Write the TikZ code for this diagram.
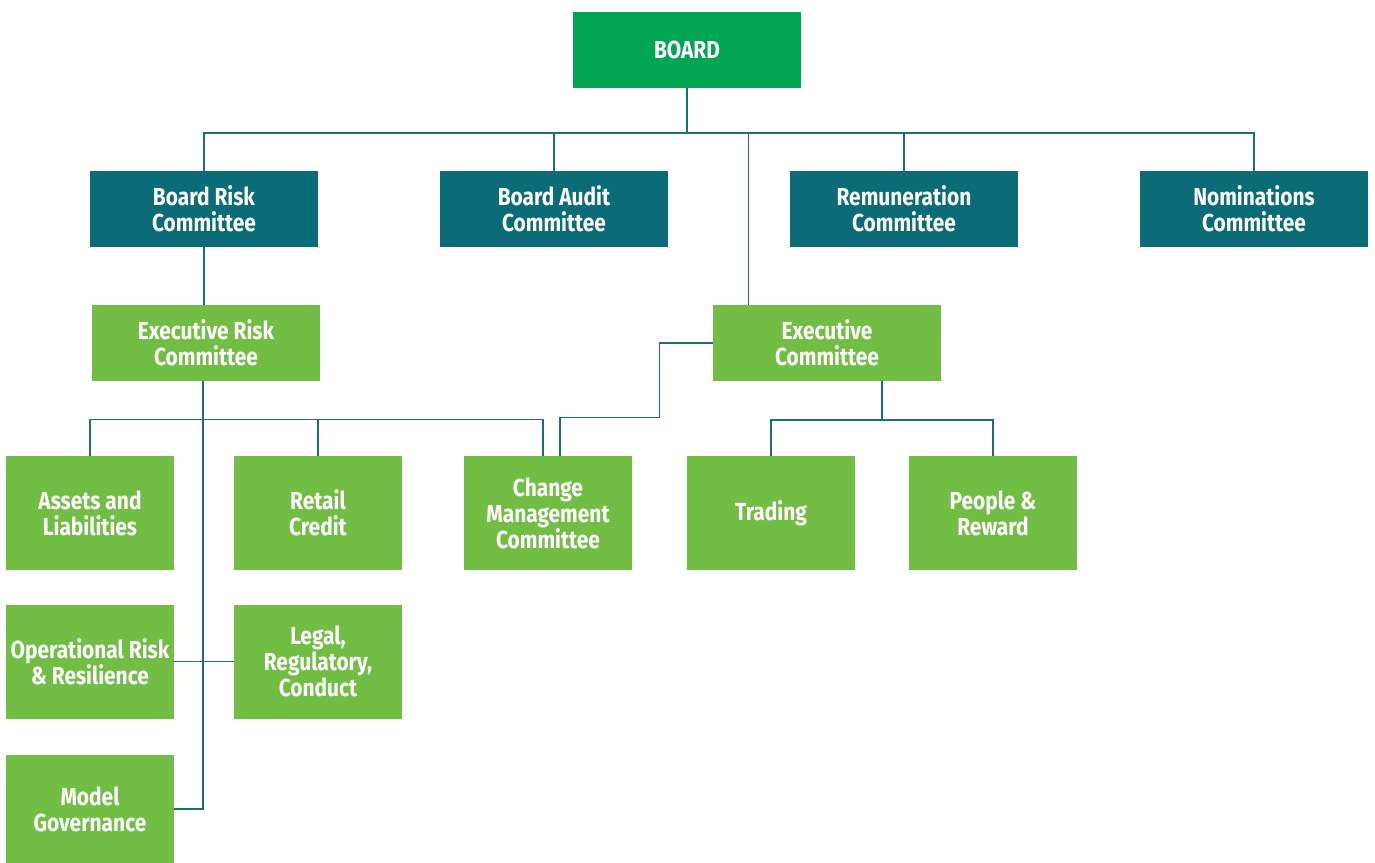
\documentclass[tikz,border=0pt]{standalone}
\usepackage{fontspec}
\setmainfont[FakeStretch=0.85]{Fira Sans}
\usetikzlibrary{calc}
\definecolor{boardgreen}{RGB}{0,166,81}
\definecolor{teal}{RGB}{11,107,118}
\definecolor{leaf}{RGB}{114,190,68}
\definecolor{wire}{RGB}{27,110,122}
\tikzset{
    box/.style={rectangle, inner sep=0pt, text=white, align=center,
        font=\fontsize{14}{14.8}\selectfont\bfseries},
    boardbox/.style={box, fill=boardgreen, minimum width=4.56cm, minimum height=1.52cm},
    committee/.style={box, fill=teal, minimum width=4.56cm, minimum height=1.52cm},
    exec/.style={box, fill=leaf, minimum width=4.56cm, minimum height=1.52cm},
    sub/.style={box, fill=leaf, minimum width=3.36cm, minimum height=2.28cm},
    wire/.style={draw=wire, line width=0.8pt}
}
\begin{document}
\begin{tikzpicture}
        \useasboundingbox (0,0) rectangle (27.5,-17.26);

        \node[boardbox] (board) at (13.74,-1.0) {BOARD};

        \node[committee] (brc) at (4.08,-4.18) {Board Risk\\Committee};
        \node[committee] (bac) at (11.08,-4.18) {Board Audit\\Committee};
        \node[committee] (rem) at (18.08,-4.18) {Remuneration\\Committee};
        \node[committee] (nom) at (25.08,-4.18) {Nominations\\Committee};

        \node[exec] (erc) at (4.12,-6.86) {Executive Risk\\Committee};
        \node[exec] (exc) at (16.54,-6.86) {Executive\\Committee};

        \node[sub] (ali) at (1.8,-10.26) {Assets and\\Liabilities};
        \node[sub] (rcr) at (6.36,-10.26) {Retail\\Credit};
        \node[sub] (cmc) at (10.96,-10.26) {Change\\Management\\Committee};
        \node[sub] (trd) at (15.42,-10.26) {Trading};
        \node[sub] (ppl) at (19.86,-10.26) {People \&\\Reward};

        \node[sub] (orr) at (1.8,-13.23) {Operational Risk\\\& Resilience};
        \node[sub] (lrc) at (6.36,-13.23) {Legal,\\Regulatory,\\Conduct};
        \node[sub, minimum height=2.16cm] (mgv) at (1.8,-16.18) {Model\\Governance};

        \coordinate (topbus) at (0,-2.66);
        \coordinate (lowbus) at (0,-8.4);
        \coordinate (exctop) at ($(exc.north west)+(0.72,0)$);
        \coordinate (excbot) at ($(exc.south)+(1.1,0)$);
        \coordinate (ercbot) at ($(erc.south)+(-0.06,0)$);

        % board to committees
        \draw[wire] (board.south) -- (board.south |- topbus);
        \draw[wire] (brc.north) |- (nom.north |- topbus) -- (nom.north);
        \draw[wire] (bac.north) -- (bac.north |- topbus);
        \draw[wire] (rem.north) -- (rem.north |- topbus);
        \draw[wire] (exctop) -- (exctop |- topbus);

        % risk side
        \draw[wire] (brc.south) -- (brc.south |- erc.north);
        \draw[wire] (ercbot) -- (ercbot |- mgv.east) -- (mgv.east);
        \draw[wire] (ali.north) |- ($(cmc.north)+(-0.1,0.72)$) -- ($(cmc.north)+(-0.1,0)$);
        \draw[wire] (rcr.north) -- (rcr.north |- lowbus);
        \draw[wire] (orr.east) -- (lrc.west);

        % executive side
        \draw[wire] (exc.west) -- ++(-1.06,0) |- ($(cmc.north)+(0.24,0.76)$) -- ($(cmc.north)+(0.24,0)$);
        \draw[wire] (excbot) -- (excbot |- lowbus);
        \draw[wire] (trd.north) |- (ppl.north |- lowbus) -- (ppl.north);
    \end{tikzpicture}
\end{document}
